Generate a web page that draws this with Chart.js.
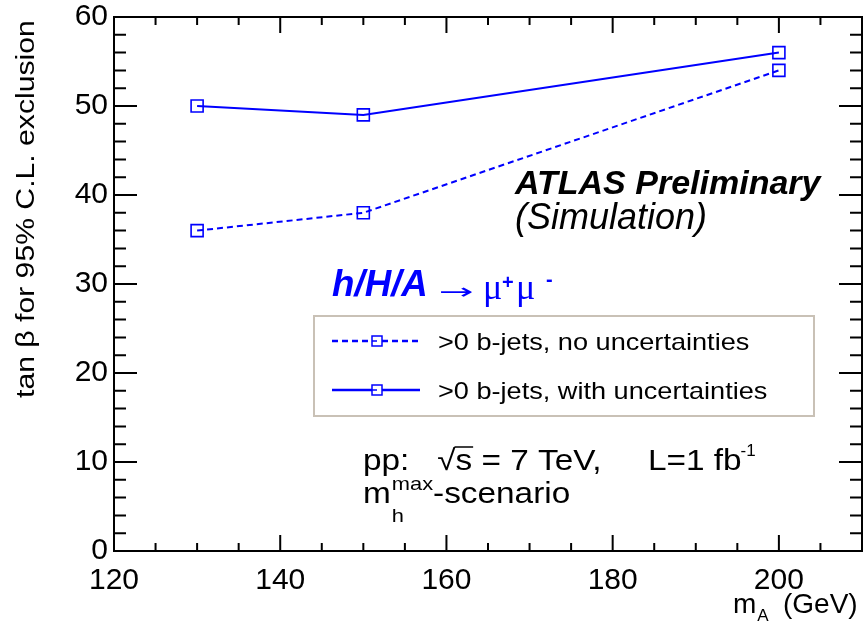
<!DOCTYPE html>
<html>
<head>
<meta charset="utf-8">
<script src="https://cdn.jsdelivr.net/npm/chart.js@4"></script>
<style>
html,body{margin:0;padding:0;background:#fff;}
#wrap{width:863px;height:624px;position:relative;}
</style>
</head>
<body>
<div id="wrap"><canvas id="c" width="863" height="624"></canvas></div>
<script>
// ---- data ----
const massPoints = [130, 150, 200];
const noUncValues = [36, 38, 54];
const withUncValues = [50, 49, 56];
const seriesLabels = ['>0 b-jets, no uncertainties', '>0 b-jets, with uncertainties'];
const xTickValues = [120, 140, 160, 180, 200];
const yTickValues = [0, 10, 20, 30, 40, 50, 60];
const xMinorValues = [125,130,135,145,150,155,165,170,175,185,190,195,205];
const yMinorValues = [2,4,6,8,12,14,16,18,22,24,26,28,32,34,36,38,42,44,46,48,52,54,56,58];
const yTitle = 'tan \u03B2 for 95% C.L. exclusion';
const xTitle = ['m', 'A', '(GeV)'];
const atlasText = ['ATLAS Preliminary', '(Simulation)'];
const processText = ['h/H/A', '\u2192', '\u03BC', '+', '\u03BC', '-'];
const energyText = ['pp:   \u221A', 's', ' = 7 TeV,     L=1 fb', '-1'];
const scenarioText = ['m', 'max', 'h', '-scenario'];

const BLUE = '#0000ff';
const FONT = '"Liberation Sans", Arial, Helvetica, sans-serif';
const SERIF = '"Liberation Serif", "Times New Roman", serif';

function txt(ctx, s, x, y, font, sx) {
  sx = sx || 1;
  ctx.save();
  ctx.font = font;
  ctx.translate(x, y);
  ctx.scale(sx, 1);
  ctx.textAlign = 'left';
  ctx.textBaseline = 'alphabetic';
  ctx.fillText(s, 0, 0);
  const w = ctx.measureText(s).width * sx;
  ctx.restore();
  return w;
}

const overlay = {
  id: 'overlay',
  afterDraw(chart) {
    const ctx = chart.ctx;
    const a = chart.chartArea;
    const xs = chart.scales.x, ys = chart.scales.y;
    ctx.save();
    // frame
    ctx.strokeStyle = '#000';
    ctx.lineWidth = 2;
    ctx.strokeRect(a.left, a.top, a.right - a.left, a.bottom - a.top);
    // ticks
    ctx.beginPath();
    const yt = (v, len) => {
      const p = ys.getPixelForValue(v);
      ctx.moveTo(a.left, p); ctx.lineTo(a.left + len, p);
      ctx.moveTo(a.right, p); ctx.lineTo(a.right - len, p);
    };
    const xt = (v, len) => {
      const p = xs.getPixelForValue(v);
      ctx.moveTo(p, a.bottom); ctx.lineTo(p, a.bottom - len);
      ctx.moveTo(p, a.top); ctx.lineTo(p, a.top + len);
    };
    yTickValues.forEach(v => yt(v, 23));
    yMinorValues.forEach(v => yt(v, 12));
    xTickValues.forEach(v => xt(v, 16));
    xMinorValues.forEach(v => xt(v, 8));
    ctx.stroke();

    ctx.fillStyle = '#000';
    // y title (rotated)
    ctx.save();
    ctx.translate(34, 398);
    ctx.rotate(-Math.PI / 2);
    txt(ctx, yTitle, 0, 0, '26px ' + FONT, 1.16);
    ctx.restore();

    // x title m_A (GeV)
    let x = 733;
    x += txt(ctx, xTitle[0], x, 613, '28px ' + FONT);
    txt(ctx, xTitle[1], x + 1, 621, '17px ' + FONT);
    txt(ctx, xTitle[2], 783, 613, '28px ' + FONT);

    // ATLAS Preliminary
    txt(ctx, atlasText[0], 515, 194, 'italic bold 34px ' + FONT);
    txt(ctx, atlasText[1], 515, 229, 'italic 36px ' + FONT);

    // process label
    ctx.fillStyle = BLUE;
    txt(ctx, processText[0], 332, 296, 'italic bold 36px ' + FONT, 1.02);
    const AF = '22px "DejaVu Sans", ' + FONT;
    ctx.font = AF;
    const arW = ctx.measureText(processText[1]).width;
    txt(ctx, processText[1], 439, 299, AF, 35 / arW);
    txt(ctx, processText[2], 483, 299, '36px ' + SERIF);
    txt(ctx, processText[3], 502, 289, 'bold 20px ' + FONT);
    txt(ctx, processText[4], 516, 299, '36px ' + SERIF);
    txt(ctx, processText[5], 546, 286, 'bold 20px ' + FONT);

    // legend box
    ctx.strokeStyle = '#c9c1b6';
    ctx.lineWidth = 2;
    ctx.strokeRect(314, 316, 500, 100);
    const ds = chart.data.datasets;
    const rows = [341, 390];
    ds.forEach((d, i) => {
      const y = rows[i];
      ctx.strokeStyle = d.borderColor;
      ctx.lineWidth = d.borderWidth + 0.5;
      ctx.setLineDash(d.borderDash || []);
      ctx.beginPath();
      ctx.moveTo(332, y); ctx.lineTo(372, y);
      ctx.moveTo(382, y); ctx.lineTo(420, y);
      ctx.stroke();
      ctx.setLineDash([]);
      ctx.lineWidth = 1.5;
      ctx.strokeRect(372, y - 5, 10, 10);
      ctx.beginPath(); ctx.moveTo(372, y); ctx.lineTo(377, y); ctx.stroke();
      ctx.fillStyle = '#000';
      txt(ctx, d.label, 438, y + 9, '24px ' + FONT, 1.13);
    });

    // energy / lumi
    ctx.fillStyle = '#000';
    ctx.strokeStyle = '#000';
    const F29 = '29px ' + FONT, SX = 1.15;
    x = 363;
    x += txt(ctx, energyText[0], x, 470, F29, SX);
    const sW = txt(ctx, energyText[1], x, 470, F29, SX);
    ctx.lineWidth = 1.5;
    ctx.beginPath(); ctx.moveTo(x - 1, 447); ctx.lineTo(x + sW + 1, 447); ctx.stroke();
    x += sW;
    x += txt(ctx, energyText[2], x, 470, F29, SX);
    txt(ctx, energyText[3], x - 1, 456, '17px ' + FONT);

    // scenario
    x = 363;
    x += txt(ctx, scenarioText[0], x, 503, F29, SX);
    const mw = txt(ctx, scenarioText[1], x + 1, 490, '19px ' + FONT, SX);
    txt(ctx, scenarioText[2], x + 1, 522, '19px ' + FONT, SX);
    txt(ctx, scenarioText[3], x + mw + 1, 503, F29, SX);
    ctx.restore();
  }
};

const zeroPad = s => { s.paddingTop = 0; s.paddingBottom = 0; s.paddingLeft = 0; s.paddingRight = 0; };

new Chart(document.getElementById('c'), {
  type: 'line',
  data: {
    datasets: [
      {
        label: seriesLabels[0],
        data: massPoints.map((m, i) => ({x: m, y: noUncValues[i]})),
        borderColor: BLUE, borderWidth: 2, borderDash: [6, 4],
        pointStyle: 'rect', pointRadius: 8.5, pointBorderWidth: 1.6,
        pointBackgroundColor: 'rgba(0,0,0,0)', pointBorderColor: BLUE,
        tension: 0, fill: false
      },
      {
        label: seriesLabels[1],
        data: massPoints.map((m, i) => ({x: m, y: withUncValues[i]})),
        borderColor: BLUE, borderWidth: 2,
        pointStyle: 'rect', pointRadius: 8.5, pointBorderWidth: 1.6,
        pointBackgroundColor: 'rgba(0,0,0,0)', pointBorderColor: BLUE,
        tension: 0, fill: false
      }
    ]
  },
  options: {
    responsive: false,
    animation: false,
    devicePixelRatio: 1,
    layout: { autoPadding: false, padding: { top: 17, right: 1, bottom: 0, left: 0 } },
    plugins: { legend: { display: false }, tooltip: { enabled: false } },
    scales: {
      x: {
        type: 'linear', min: 120, max: 210,
        afterBuildTicks: s => { s.ticks = xTickValues.map(v => ({value: v})); },
        afterFit: s => { s.height = 73; zeroPad(s); },
        grid: { display: false, drawTicks: false },
        border: { display: false },
        ticks: { autoSkip: false, maxRotation: 0, padding: 12, color: '#000',
                 font: { size: 30, family: FONT } }
      },
      y: {
        type: 'linear', min: 0, max: 60,
        afterBuildTicks: s => { s.ticks = yTickValues.map(v => ({value: v})); },
        afterFit: s => { s.width = 114; zeroPad(s); },
        grid: { display: false, drawTicks: false },
        border: { display: false },
        ticks: { padding: 6, color: '#000', font: { size: 30, family: FONT } }
      }
    }
  },
  plugins: [overlay]
});
</script>
</body>
</html>
